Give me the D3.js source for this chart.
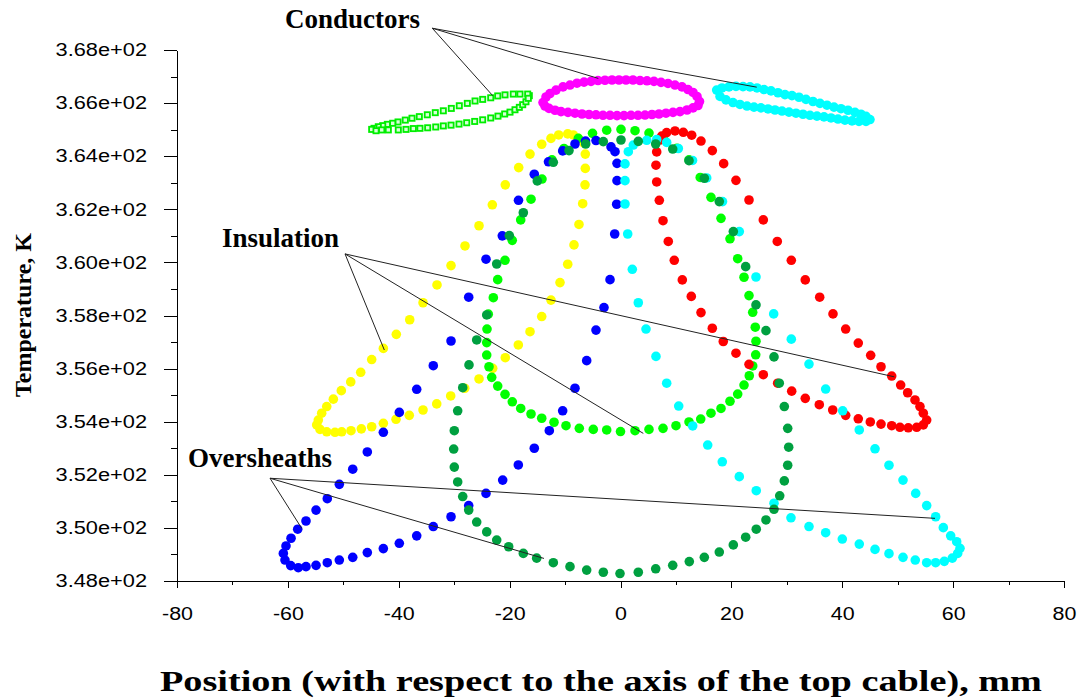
<!doctype html>
<html lang="en">
<head>
<meta charset="UTF-8">
<title>Temperature - Position</title>
<style>
  body { margin: 0; background: #fff; }
  .axis path, .axis line { stroke: #000; shape-rendering: crispEdges; }
  .axis text { font-family: "Liberation Sans", Arial, sans-serif; font-size: 18px; fill: #000; }
  .lbl { font-family: "Liberation Serif", "Times New Roman", serif; font-weight: bold; fill: #000; }
  .lead { stroke: #222; stroke-width: 1; fill: none; }
</style>
</head>
<body>
<script src="https://d3js.org/d3.v7.min.js"></script>
<script>
// axis ticks
var xMajor = [-80, -60, -40, -20, 0, 20, 40, 60, 80];
var xMinor = [-70, -50, -30, -10, 10, 30, 50, 70];
var yMajor = [348, 350, 352, 354, 356, 358, 360, 362, 364, 366, 368];
var yMinor = [349, 351, 353, 355, 357, 359, 361, 363, 365, 367];

// conductors [position mm, temperature K]
var condLeft = [[-16.45,366.28],[-16.74,366.34],[-18.13,366.34],[-19.34,366.34],[-20.83,366.31],[-22.15,366.27],[-23.41,366.20],[-24.86,366.14],[-26.24,366.08],[-27.63,365.99],[-29.08,365.90],[-30.52,365.80],[-31.96,365.71],[-33.41,365.64],[-34.85,365.56],[-36.29,365.49],[-37.61,365.43],[-38.82,365.36],[-40.13,365.29],[-41.09,365.24],[-42.06,365.20],[-42.89,365.15],[-43.69,365.11],[-44.46,365.05],[-44.88,365.01],[-44.10,364.96],[-43.07,364.99],[-41.88,364.99],[-40.08,364.99],[-38.69,365.01],[-37.37,365.04],[-36.17,365.05],[-34.78,365.07],[-33.33,365.10],[-31.96,365.14],[-30.57,365.17],[-29.13,365.21],[-27.74,365.26],[-26.30,365.31],[-24.86,365.37],[-23.41,365.44],[-22.10,365.51],[-20.89,365.59],[-19.93,365.66],[-19.03,365.75],[-18.25,365.84],[-17.64,365.94],[-17.05,366.05],[-16.63,366.18]];
var condTop = [[-13.98,366.02],[-13.44,366.23],[-12.72,366.36],[-11.63,366.49],[-10.37,366.61],[-9.11,366.68],[-7.85,366.75],[-6.58,366.79],[-5.32,366.82],[-4.06,366.85],[-2.80,366.86],[-1.53,366.87],[-0.27,366.87],[0.99,366.87],[2.25,366.87],[3.52,366.85],[4.78,366.84],[6.04,366.82],[7.31,366.78],[8.57,366.74],[9.83,366.68],[11.09,366.61],[12.17,366.51],[13.08,366.40],[13.80,366.25],[14.25,366.06],[13.98,365.91],[13.08,365.82],[12.00,365.74],[10.73,365.68],[9.47,365.65],[8.21,365.62],[6.94,365.59],[5.68,365.57],[4.42,365.55],[3.16,365.54],[1.89,365.54],[0.63,365.53],[-0.63,365.53],[-1.89,365.54],[-3.16,365.54],[-4.42,365.56],[-5.68,365.57],[-6.94,365.59],[-8.21,365.62],[-9.47,365.65],[-10.73,365.68],[-11.81,365.73],[-12.90,365.80],[-13.62,365.89]];
var condRight = [[17.35,366.49],[18.31,366.57],[19.57,366.61],[20.83,366.63],[22.10,366.62],[23.36,366.61],[24.62,366.57],[25.88,366.51],[27.15,366.46],[28.41,366.39],[29.67,366.32],[30.93,366.28],[32.20,366.22],[33.46,366.14],[34.72,366.06],[35.98,365.99],[37.25,365.92],[38.51,365.85],[39.77,365.79],[41.04,365.73],[42.30,365.65],[43.38,365.58],[44.28,365.50],[45.00,365.38],[44.28,365.31],[43.02,365.31],[41.76,365.33],[40.49,365.36],[39.23,365.40],[37.97,365.44],[36.71,365.48],[35.44,365.51],[34.18,365.54],[32.92,365.58],[31.66,365.62],[30.39,365.66],[29.13,365.70],[27.87,365.74],[26.61,365.78],[25.34,365.82],[24.08,365.85],[22.82,365.89],[21.55,365.95],[20.29,366.02],[19.03,366.12],[17.95,366.25]];

// insulation
var insLeft = [[-9.52,364.84],[-11.15,364.80],[-12.54,364.67],[-14.21,364.45],[-16.32,364.08],[-18.36,363.57],[-20.78,362.92],[-23.12,362.17],[-25.52,361.38],[-28.05,360.62],[-30.57,359.88],[-33.10,359.15],[-35.62,358.48],[-38.02,357.84],[-40.44,357.29],[-42.78,356.76],[-44.88,356.34],[-46.86,355.86],[-48.66,355.50],[-50.36,355.17],[-51.80,354.85],[-52.99,354.57],[-53.90,354.32],[-54.51,354.06],[-54.80,353.88],[-54.20,353.71],[-52.99,353.62],[-51.50,353.60],[-50.29,353.62],[-48.61,353.66],[-46.75,353.73],[-44.88,353.81],[-42.78,353.94],[-40.49,354.09],[-38.10,354.24],[-35.62,354.44],[-33.15,354.67],[-30.63,354.97],[-28.10,355.26],[-25.52,355.61],[-23.05,356.01],[-20.78,356.41],[-18.43,356.89],[-16.32,357.39],[-14.21,357.96],[-12.54,358.58],[-10.91,359.24],[-9.52,359.93],[-8.39,360.66],[-7.49,361.43],[-6.82,362.21],[-6.40,362.92],[-6.35,363.54],[-6.35,364.08],[-6.58,364.49],[-7.61,364.67],[-8.51,364.80]];
var insTop = [[-5.05,364.86],[-7.61,364.67],[-10.19,364.29],[-12.36,363.86],[-14.16,363.14],[-16.14,362.38],[-18.00,361.60],[-19.53,360.83],[-20.83,360.08],[-22.15,359.35],[-22.94,358.67],[-23.85,358.05],[-24.08,357.49],[-24.13,356.98],[-24.13,356.51],[-23.72,356.07],[-23.23,355.67],[-22.15,355.34],[-20.83,355.03],[-19.52,354.75],[-18.00,354.50],[-16.14,354.29],[-14.21,354.13],[-11.99,353.98],[-9.83,353.85],[-7.43,353.75],[-4.91,353.71],[-2.49,353.69],[0,353.63],[2.62,353.66],[5.14,353.71],[7.67,353.75],[10.01,353.85],[12.36,353.99],[14.47,354.10],[16.32,354.32],[18.13,354.50],[19.75,354.77],[21.14,355.04],[22.28,355.38],[23.23,355.73],[23.85,356.10],[24.39,356.52],[24.44,357.03],[24.31,357.56],[23.85,358.12],[23.18,358.75],[22.28,359.44],[21.14,360.14],[19.75,360.89],[18.13,361.66],[16.32,362.45],[14.38,363.20],[12.36,363.86],[10.19,364.30],[7.72,364.67],[5.14,364.87],[2.62,364.96],[0.09,365.01],[-2.49,364.98]];
var insRight = [[8.33,364.89],[9.83,364.95],[11.33,364.90],[12.84,364.79],[14.52,364.57],[16.56,364.21],[18.61,363.72],[20.83,363.09],[23.18,362.35],[25.76,361.60],[28.28,360.79],[30.81,360.08],[33.33,359.34],[35.93,358.69],[38.33,358.06],[40.62,357.49],[42.89,356.96],[45.13,356.50],[46.99,356.07],[48.92,355.72],[50.54,355.38],[51.80,355.09],[53.12,354.82],[54.02,354.57],[54.62,354.32],[55.23,354.06],[54.62,353.88],[53.43,353.79],[51.91,353.77],[50.41,353.79],[48.92,353.85],[46.99,353.91],[45.06,353.99],[42.89,354.11],[40.62,354.24],[38.28,354.44],[35.86,354.64],[33.33,354.88],[30.88,355.15],[28.35,355.45],[25.76,355.77],[23.18,356.16],[20.83,356.58],[18.54,357.02],[16.56,357.52],[14.52,358.11],[12.77,358.72],[11.15,359.34],[9.70,360.08],[8.62,360.79],[7.67,361.57],[7.00,362.34],[6.53,363.03],[6.40,363.66],[6.53,364.16],[7.12,364.61],[7.43,364.76]];

// oversheaths
var sheathLeft = [[-1.71,364.35],[-4.42,364.59],[-6.31,364.57],[-8.21,364.46],[-10.43,364.20],[-12.99,363.79],[-15.55,363.32],[-18.40,362.34],[-21.32,361.00],[-24.26,360.12],[-27.38,358.69],[-30.57,357.04],[-33.77,356.11],[-36.76,355.22],[-39.90,354.35],[-42.78,353.60],[-45.67,352.86],[-48.30,352.21],[-50.72,351.64],[-52.89,351.10],[-54.92,350.67],[-56.73,350.26],[-58.23,349.95],[-59.43,349.61],[-60.34,349.32],[-60.82,349.04],[-60.52,348.79],[-59.49,348.58],[-58.12,348.50],[-56.73,348.54],[-54.92,348.59],[-52.89,348.69],[-50.72,348.79],[-48.30,348.89],[-45.67,349.07],[-42.78,349.22],[-39.90,349.42],[-36.76,349.70],[-33.77,350.05],[-30.57,350.42],[-27.38,350.84],[-24.26,351.30],[-21.25,351.80],[-18.43,352.37],[-15.55,353.00],[-12.84,353.66],[-10.43,354.41],[-8.21,355.26],[-6.10,356.30],[-4.42,357.45],[-2.98,358.30],[-1.89,359.35],[-1.05,361.07],[-0.69,362.19],[-0.63,363.08],[-0.63,363.73],[-0.99,364.17]];
var sheathTop = [[0.09,364.61],[-3.10,364.55],[-6.28,364.46],[-9.29,364.21],[-12.12,363.77],[-15.01,363.07],[-17.53,361.87],[-20.06,361.01],[-22.33,359.94],[-24.13,358.02],[-25.94,357.08],[-27.33,356.14],[-28.46,355.28],[-29.37,354.41],[-29.98,353.66],[-30.09,352.97],[-29.98,352.29],[-29.37,351.73],[-28.46,351.18],[-27.38,350.67],[-25.94,350.22],[-24.13,349.85],[-22.33,349.54],[-20.17,349.29],[-17.53,349.04],[-15.12,348.86],[-12.12,348.69],[-9.11,348.54],[-6.10,348.41],[-3.10,348.33],[-0.09,348.28],[3.21,348.33],[6.35,348.46],[9.42,348.59],[12.41,348.73],[15.12,348.89],[17.82,349.09],[20.35,349.36],[22.58,349.65],[24.49,349.95],[26.24,350.30],[27.69,350.70],[28.72,351.21],[29.55,351.77],[30.16,352.36],[30.34,353.04],[30.16,353.75],[29.55,354.57],[28.64,355.45],[27.69,356.44],[26.24,357.43],[24.44,358.40],[22.58,359.84],[20.35,361.16],[17.82,362.29],[15.12,363.17],[12.36,363.83],[9.42,364.27],[6.35,364.46],[3.21,364.56]];
var sheathRight = [[8.33,364.52],[10.43,364.29],[12.99,363.84],[15.55,363.18],[18.40,362.29],[21.43,361.16],[24.44,359.45],[27.63,358.06],[30.81,357.11],[34.00,356.17],[37.01,355.23],[40.08,354.41],[43.07,353.69],[45.91,352.98],[48.43,352.36],[50.96,351.80],[53.25,351.30],[55.23,350.84],[56.85,350.42],[58.23,350.01],[59.56,349.70],[60.64,349.48],[61.24,349.23],[60.82,349.04],[59.85,348.86],[58.41,348.74],[56.85,348.69],[55.23,348.69],[53.17,348.79],[50.96,348.89],[48.43,349.03],[45.91,349.19],[43.07,349.39],[40.01,349.58],[37.01,349.82],[34.00,350.05],[30.75,350.38],[27.69,350.93],[24.49,351.40],[21.43,351.93],[18.36,352.49],[15.73,353.12],[13.02,353.84],[10.50,354.59],[8.33,355.45],[6.40,356.46],[4.60,357.49],[3.21,358.48],[2.13,359.74],[1.30,361.07],[0.81,362.20],[0.81,363.08],[0.81,363.71],[1.41,364.17],[2.31,364.42],[4.73,364.60],[6.53,364.63]];

// annotation leaders: label anchor and pointed-at positions
var condAnchor = [-33.95, 368.82];
var condTargets = [[-23.05,366.28],[-4.00,366.93],[24.57,366.60]];
var insAnchor = [-49.69, 360.32];
var insTargets = [[-42.60,356.70],[4.11,353.56],[49.39,355.69]];
var sheathAnchor = [-63.22, 351.87];
var sheathTargets = [[-57.50,349.98],[-13.80,348.85],[56.73,350.36]];

var width = 1088, height = 700;

var x = d3.scaleLinear().domain([-80, 80]).range([177, 1064]);
var y = d3.scaleLinear().domain([348, 368]).range([581, 50]);

var svg = d3.select("body").append("svg")
    .attr("width", width)
    .attr("height", height)
    .style("background", "#fff");

// stretch tick text horizontally like the original
function widen(sel, k) {
    sel.selectAll("text").each(function() {
        var w = this.getComputedTextLength();
        d3.select(this).attr("textLength", w * k).attr("lengthAdjust", "spacingAndGlyphs");
    });
}

// minor ticks
svg.append("g").attr("class", "axis")
    .attr("transform", "translate(177,0)")
    .call(d3.axisLeft(y).tickValues(yMinor).tickSize(6).tickFormat(""))
    .call(function(g) { g.select(".domain").remove(); });
svg.append("g").attr("class", "axis")
    .attr("transform", "translate(0,581)")
    .call(d3.axisBottom(x).tickValues(xMinor).tickSize(4).tickFormat(""))
    .call(function(g) { g.select(".domain").remove(); });

var yAxis = svg.append("g").attr("class", "axis")
    .attr("transform", "translate(177,0)")
    .call(d3.axisLeft(y).tickValues(yMajor).tickSize(13).tickSizeOuter(0).tickPadding(17)
        .tickFormat(function(d) { return (d / 100).toFixed(2) + "e+02"; }));
widen(yAxis, 1.21);

var xAxis = svg.append("g").attr("class", "axis")
    .attr("transform", "translate(0,581)")
    .call(d3.axisBottom(x).tickValues(xMajor).tickSize(7).tickSizeOuter(0).tickPadding(19)
        .tickFormat(function(d) { return String(d); }));
widen(xAxis, 1.19);

// point series
var dots = [
    {data: insLeft, color: "#ffff00"},
    {data: insTop, color: "#00ff00"},
    {data: insRight, color: "#ff0000"},
    {data: sheathLeft, color: "#0000ff"},
    {data: sheathRight, color: "#00ffff"},
    {data: sheathTop, color: "#00a040"},
    {data: condTop, color: "#ff00ff"},
    {data: condRight, color: "#00ffff"}
];

dots.forEach(function(s) {
    svg.append("g").selectAll("circle")
        .data(s.data)
        .enter()
        .append("circle")
            .attr("cx", function(d) { return x(d[0]); })
            .attr("cy", function(d) { return y(d[1]); })
            .attr("r", 4.8)
            .attr("fill", s.color);
});

// left conductor uses small hollow squares
svg.append("g").selectAll("rect")
    .data(condLeft)
    .enter()
    .append("rect")
        .attr("x", function(d) { return x(d[0]) - 2.6; })
        .attr("y", function(d) { return y(d[1]) - 2.6; })
        .attr("width", 5.2)
        .attr("height", 5.2)
        .attr("fill", "#d8ffd8")
        .attr("stroke", "#00ee00")
        .attr("stroke-width", 1.8);

// leader lines
function leaders(anchor, targets) {
    svg.append("g").selectAll("line")
        .data(targets)
        .enter()
        .append("line")
            .attr("class", "lead")
            .attr("x1", x(anchor[0]))
            .attr("y1", y(anchor[1]))
            .attr("x2", function(d) { return x(d[0]); })
            .attr("y2", function(d) { return y(d[1]); });
}
leaders(condAnchor, condTargets);
leaders(insAnchor, insTargets);
leaders(sheathAnchor, sheathTargets);

svg.append("text").attr("class", "lbl")
    .attr("x", 285).attr("y", 28).style("font-size", "27px")
    .text("Conductors");
svg.append("text").attr("class", "lbl")
    .attr("x", 222).attr("y", 247).style("font-size", "27px")
    .text("Insulation");
svg.append("text").attr("class", "lbl")
    .attr("x", 188).attr("y", 467).style("font-size", "27px")
    .text("Oversheaths");

// axis titles
svg.append("text").attr("class", "lbl")
    .attr("x", 160).attr("y", 691)
    .attr("textLength", 882)
    .attr("lengthAdjust", "spacingAndGlyphs")
    .style("font-size", "30px")
    .text("Position (with respect to the axis of the top cable), mm");

svg.append("text").attr("class", "lbl")
    .attr("transform", "translate(31,315) rotate(-90)")
    .attr("text-anchor", "middle")
    .style("font-size", "24px")
    .text("Temperature, K");
</script>
</body>
</html>
